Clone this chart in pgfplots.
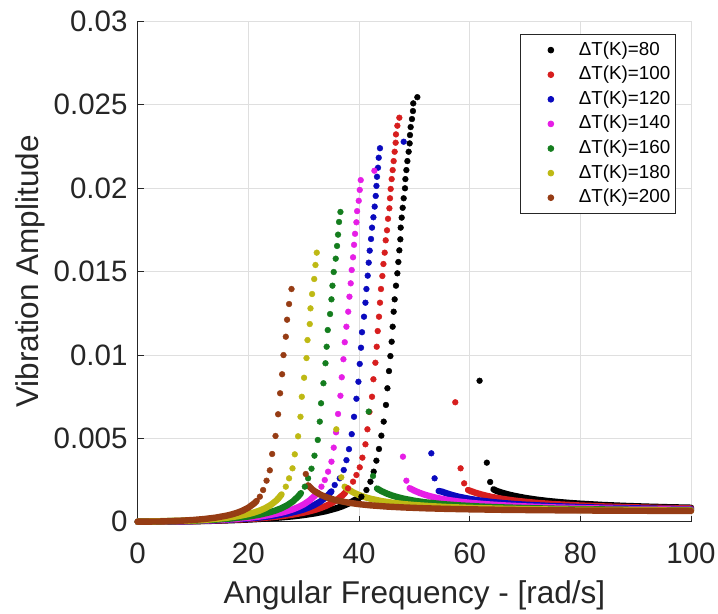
\documentclass[border=0pt]{standalone}
\usepackage{pgfplots}
\pgfplotsset{compat=1.18}
\usepackage{fontspec}
\setmainfont{Liberation Sans}
\definecolor{cK}{RGB}{0,0,0}
\definecolor{cR}{RGB}{215,30,30}
\definecolor{cB}{RGB}{10,10,190}
\definecolor{cM}{RGB}{230,30,230}
\definecolor{cG}{RGB}{20,125,30}
\definecolor{cY}{RGB}{190,185,20}
\definecolor{cN}{RGB}{150,60,20}
\definecolor{axc}{RGB}{38,38,38}
\begin{document}
\begin{tikzpicture}
\useasboundingbox (-137.7bp,-92.3bp) rectangle (580.3bp,521.7bp);
\begin{axis}[
  at={(0,0)}, anchor=south west, scale only axis,
  width=553.3bp, height=500.4bp,
  xmin=0, xmax=100, ymin=0, ymax=0.03,
  clip=false,
  axis x line=bottom, axis y line=left,
  axis line style={-, draw=axc, line width=0.8bp},
  tick align=inside, major tick length=6bp,
  tick style={draw=axc, line width=0.8bp},
  grid=major, major grid style={gray!25, line width=0.8bp},
  xtick={0,20,40,60,80,100},
  xticklabels={0,20,40,60,80,100},
  ytick={0,0.005,0.01,0.015,0.02,0.025,0.03},
  yticklabels={0,0.005,0.01,0.015,0.02,0.025,0.03},
  scaled y ticks=false,
  ticklabel style={font=\fontsize{29.5bp}{30bp}\selectfont, text=axc, inner sep=0pt},
  xticklabel shift=21bp,
  yticklabel shift=10bp,
  xlabel={Angular Frequency - [rad/s]},
  ylabel={Vibration Amplitude},
  label style={font=\fontsize{31.5bp}{32bp}\selectfont, text=axc, inner sep=0pt},
  xlabel style={at={(axis description cs:0.5,-0.1631)}, anchor=base},
  ylabel style={at={(axis description cs:-0.1784,0.5)}, anchor=base, rotate=0},
  legend cell align=left,
  legend image code/.code={\path (0bp,0bp) (44bp,0bp); \draw[#1] plot coordinates {(27.7bp,0bp)};},
  legend style={at={(axis description cs:0.9729,0.9746)}, anchor=north east,
    draw=axc, line width=0.8bp, fill=white,
    inner xsep=2.3bp, inner ysep=6.7bp, row sep=6.6bp, column sep=8.3bp,
    font=\fontsize{18.8bp}{19bp}\selectfont,
    nodes={inner xsep=3bp, inner ysep=0bp, text height=14bp, text depth=4bp}},
  dense/.style={forget plot, line width=6.4bp, line cap=round, line join=round},
  dots/.style={only marks, mark=*, mark size=2.9bp},
]
% ---------- dT = 80 (black)
\addplot[dense, draw=cK] coordinates {(0,0) (10,0.000028) (15,0.000067) (20,0.00013) (24,0.000206) (28,0.000321) (30,0.0004) (32,0.000501) (34,0.000634) (36,0.000815) (37,0.000932) (38,0.001075) (39,0.001252) (40,0.00142)};
\addplot[dense, draw=cK] coordinates {(64.3,0.00194) (65,0.001826) (66,0.00172) (67,0.00163) (68,0.001553) (70,0.001425) (72,0.001325) (74,0.001245) (76,0.001179) (78,0.001124) (80,0.001078) (84,0.001003) (88,0.000947) (92,0.000903) (96,0.000867) (100,0.000838)};
\addplot[dots, color=cK] coordinates {(40.43,0.0015) (41.34,0.0019) (42.06,0.0024) (42.65,0.0030) (43.14,0.00366) (43.61,0.00436) (44.04,0.00516) (44.46,0.0060) (44.87,0.0070) (45.13,0.0080) (45.42,0.00903) (45.67,0.00993) (45.90,0.01079) (46.08,0.01169) (46.26,0.01259) (46.44,0.01333) (46.68,0.01415) (46.93,0.01489) (47.11,0.01557) (47.29,0.01627) (47.47,0.01693) (47.53,0.01763) (47.71,0.01823) (47.89,0.01882) (48.07,0.01939) (48.31,0.01999) (48.38,0.02054) (48.56,0.02108) (48.74,0.02162) (48.97,0.02218) (49.15,0.02268) (49.21,0.02318) (49.33,0.02366) (49.57,0.02414) (49.75,0.02462) (49.80,0.02508) (50.54,0.02545) (61.79,0.00845) (63.1,0.00354) (63.7,0.00238)};
\addlegendentry{ΔT(K)=80}
% ---------- dT = 100 (red)
\addplot[dense, draw=cR] coordinates {(0,0) (10,0.000034) (15,0.000081) (20,0.000161) (24,0.000263) (26,0.000334) (28,0.000425) (30,0.000545) (31,0.000621) (32,0.000709) (33,0.000816) (34,0.000945) (35,0.001105) (36,0.001309) (37,0.001577) (37.5,0.001744)};
\addplot[dense, draw=cR] coordinates {(59.7,0.0019) (60,0.00186) (61,0.001742) (62,0.001642) (63,0.001556) (64,0.001483) (66,0.001363) (68,0.00127) (70,0.001195) (72,0.001133) (75,0.001059) (80,0.000969) (85,0.000906) (90,0.000859) (95,0.000822) (100,0.000794)};
\addplot[dots, color=cR] coordinates {(38.01,0.0020) (38.92,0.0024) (39.53,0.0028) (40.13,0.00326) (40.61,0.00384) (41.16,0.00464) (41.52,0.00554) (41.88,0.00658) (42.35,0.00749) (42.60,0.00854) (42.96,0.00953) (43.20,0.01049) (43.38,0.01143) (43.61,0.01229) (43.79,0.01313) (43.97,0.01395) (44.22,0.01473) (44.41,0.01545) (44.64,0.01613) (44.82,0.01687) (45.06,0.01747) (45.24,0.01816) (45.49,0.01879) (45.60,0.01939) (45.72,0.01995) (45.90,0.02054) (46.08,0.02108) (46.26,0.02162) (46.44,0.02218) (46.62,0.02272) (46.68,0.02322) (46.93,0.02374) (47.29,0.02422) (57.4,0.00716) (58.36,0.0032) (59.0,0.0023)};
\addlegendentry{ΔT(K)=100}
% ---------- dT = 120 (blue)
\addplot[dense, draw=cB] coordinates {(0,0) (10,0.000039) (15,0.000096) (20,0.000195) (23,0.000288) (25,0.000373) (27,0.000485) (29,0.00064) (30,0.00074) (31,0.000862) (32,0.001014) (33,0.001208) (34,0.001463) (34.5,0.001624) (35,0.001815)};
\addplot[dense, draw=cB] coordinates {(54.39,0.00184) (55,0.0018) (56,0.001682) (57,0.001582) (58,0.001498) (60,0.001365) (62,0.001262) (64,0.001182) (66,0.001117) (68,0.001064) (70,0.00102) (75,0.000935) (80,0.000876) (85,0.000832) (90,0.000799) (95,0.000773) (100,0.000752)};
\addplot[dots, color=cB] coordinates {(35.61,0.0022) (36.52,0.0026) (37.24,0.0031) (37.73,0.00369) (38.19,0.00435) (38.68,0.00525) (39.10,0.00629) (39.53,0.00737) (39.89,0.00839) (40.13,0.00946) (40.36,0.01043) (40.54,0.01136) (40.90,0.01229) (41.16,0.01313) (41.34,0.01395) (41.57,0.01475) (41.75,0.01553) (41.93,0.01625) (42.17,0.01695) (42.35,0.01763) (42.60,0.01825) (42.83,0.01889) (43.02,0.01953) (43.15,0.02013) (43.25,0.02068) (43.43,0.02122) (43.56,0.02182) (43.79,0.02239) (48.07,0.02278) (53.07,0.0041) (53.66,0.0026)};
\addlegendentry{ΔT(K)=120}
% ---------- dT = 140 (magenta)
\addplot[dense, draw=cM] coordinates {(0,0) (10,0.000045) (15,0.000113) (18,0.000177) (20,0.000235) (22,0.00031) (24,0.000409) (26,0.000545) (27,0.000633) (28,0.00074) (29,0.000871) (30,0.001038) (31,0.001256) (32,0.001552) (32.5,0.001742)};
\addplot[dense, draw=cM] coordinates {(49.15,0.00201) (50,0.001863) (51,0.001722) (52,0.001608) (53,0.001513) (54,0.001433) (56,0.001306) (58,0.001209) (60,0.001134) (63,0.001047) (66,0.000982) (70,0.000917) (75,0.000859) (80,0.000816) (85,0.000784) (90,0.000759) (95,0.000739) (100,0.000722)};
\addplot[dots, color=cM] coordinates {(33.21,0.0021) (33.81,0.0025) (34.41,0.0030) (35.02,0.0036) (35.43,0.00444) (35.85,0.00536) (36.21,0.00646) (36.64,0.00755) (36.88,0.00866) (37.18,0.00974) (37.42,0.01076) (37.72,0.01169) (38.05,0.01259) (38.27,0.01349) (38.50,0.01429) (38.68,0.01509) (38.92,0.01585) (39.10,0.0166) (39.28,0.01726) (39.53,0.01795) (39.66,0.01862) (39.95,0.01924) (40.13,0.01989) (40.31,0.02048) (42.78,0.02104) (47.94,0.0039) (48.56,0.00246)};
\addlegendentry{ΔT(K)=140}
% ---------- dT = 160 (green)
\addplot[dense, draw=cG] coordinates {(0,0) (10,0.000056) (14,0.00012) (17,0.000196) (20,0.00031) (22,0.00042) (24,0.000577) (25,0.000682) (26,0.000813) (27,0.000981) (28,0.001203) (29,0.001511) (29.5,0.001713)};
\addplot[dense, draw=cG] coordinates {(43.25,0.00199) (44,0.001844) (45,0.00169) (46,0.001567) (47,0.001468) (48,0.001385) (50,0.001256) (52,0.001161) (55,0.001056) (58,0.000981) (62,0.000909) (66,0.000857) (70,0.000818) (75,0.000781) (80,0.000754) (85,0.000732) (90,0.000715) (95,0.000702) (100,0.00069)};
\addplot[dots, color=cG] coordinates {(30.20,0.0021) (30.80,0.0026) (31.41,0.00318) (31.95,0.00396) (32.55,0.0049) (32.91,0.006) (33.14,0.0071) (33.57,0.0083) (33.94,0.0095) (34.15,0.01049) (34.35,0.01149) (34.77,0.01245) (35.02,0.01333) (35.20,0.01415) (35.43,0.01497) (35.79,0.01577) (36.03,0.01653) (36.21,0.01721) (36.39,0.01797) (36.64,0.01857) (41.75,0.0066) (42.53,0.00274)};
\addlegendentry{ΔT(K)=160}
% ---------- dT = 180 (olive)
\addplot[dense, draw=cY] coordinates {(0,0) (10,0.000073) (13,0.000134) (16,0.00023) (18,0.000324) (20,0.000458) (21,0.000548) (22,0.00066) (23,0.000804) (24,0.000993) (25,0.001254) (25.5,0.001425) (26,0.001635)};
\addplot[dense, draw=cY] coordinates {(37.4,0.0021) (38,0.001947) (39,0.001748) (40,0.001597) (41,0.001479) (42,0.001384) (44,0.00124) (46,0.001137) (48,0.001059) (50,0.000999) (53,0.000931) (56,0.00088) (60,0.00083) (65,0.000786) (70,0.000754) (75,0.00073) (80,0.000711) (90,0.000684) (100,0.000667)};
\addplot[dots, color=cY] coordinates {(26.77,0.0021) (27.36,0.0026) (27.98,0.0032) (28.39,0.00404) (28.99,0.00512) (29.42,0.00629) (29.66,0.00749) (30.07,0.00863) (30.51,0.00981) (30.69,0.01089) (31.10,0.01185) (31.23,0.01279) (31.52,0.01365) (31.90,0.01455) (32.13,0.01539) (32.36,0.01613) (35.9,0.00554) (36.8,0.00266)};
\addlegendentry{ΔT(K)=180}
% ---------- dT = 200 (brown)
\addplot[dense, draw=cN] coordinates {(0,0) (4,0.000014) (8,0.000062) (10,0.000103) (12,0.00016) (14,0.00024) (16,0.000358) (17,0.000438) (18,0.000539) (19,0.000669) (20,0.000842) (21,0.001084) (21.5,0.001245)};
\addplot[dense, draw=cN] coordinates {(30.8,0.00218) (31.5,0.00195) (32,0.001823) (33,0.001625) (34,0.001479) (35,0.001366) (36,0.001277) (38,0.001145) (40,0.001051) (42,0.000983) (45,0.000908) (48,0.000855) (52,0.000804) (56,0.000768) (60,0.000742) (66,0.000712) (72,0.000692) (80,0.000672) (90,0.000656) (100,0.000644)};
\addplot[dots, color=cN] coordinates {(22.08,0.0015) (22.67,0.0019) (23.29,0.00246) (23.88,0.00308) (24.30,0.00406) (24.91,0.00514) (25.38,0.00644) (25.74,0.0077) (26.10,0.00884) (26.35,0.00999) (26.77,0.01109) (27.0,0.01211) (27.36,0.01305) (27.80,0.01395) (30.38,0.00286)};
\addlegendentry{ΔT(K)=200}
\end{axis}
\end{tikzpicture}
\end{document}
